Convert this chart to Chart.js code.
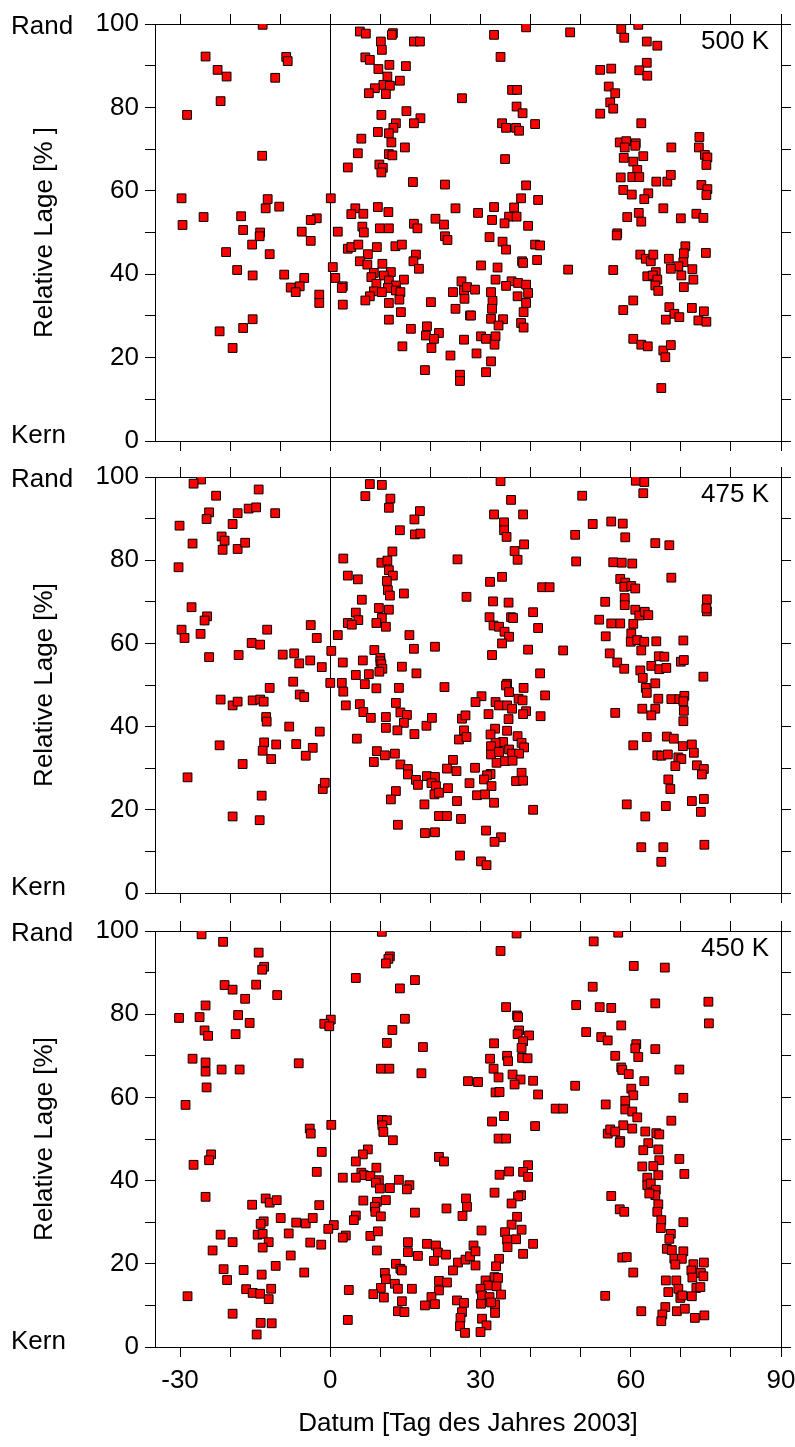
<!DOCTYPE html>
<html>
<head>
<meta charset="utf-8">
<script src="https://cdn.jsdelivr.net/npm/chart.js@4/dist/chart.umd.min.js"></script>
<style>
  html, body { margin: 0; padding: 0; background: #fff; }
  body { width: 795px; height: 1447px; position: relative; overflow: hidden; }
  canvas { position: absolute; left: 0; }
</style>
</head>
<body>
<canvas id="c500" width="795" height="458" style="top:0px"></canvas>
<canvas id="c475" width="795" height="453" style="top:458px"></canvas>
<canvas id="c450" width="795" height="536" style="top:911px"></canvas>
<script>
// Tag des Jahres 2003 (x) / relative Lage in % (y), one list per isentrope
const xTicks = [-30, -20, -10, 0, 10, 20, 30, 40, 50, 60, 70, 80, 90];
const yTicks = [0, 10, 20, 30, 40, 50, 60, 70, 80, 90, 100];
const panelNames = ['500 K', '475 K', '450 K'];
const yTitles = ['Relative Lage [% ]', 'Relative Lage [%]', 'Relative Lage [%]'];
const xTitle = 'Datum [Tag des Jahres 2003]';

const lage500 = [
  [-13.5,99.8],[5.9,98.2],[7.1,97.7],[12.5,97.8],[12.3,97.4],[16.7,95.8],[17.9,95.8],[10.1,95.8],[10.3,93.8],[-24.9,92.2],
  [-8.8,92.1],[-8.5,91.1],[7,92],[7.9,91.4],[11.8,90.2],[15.1,89.9],[-22.5,89],[-20.7,87.4],[-11,87.1],[9.6,89.2],
  [11.4,87.4],[13.9,86.4],[10.6,85.4],[11.9,85.2],[8.9,84.6],[7.7,83.4],[11.1,83.2],[26.3,82.2],[-21.9,81.5],[-28.6,78.2],
  [10.2,78.2],[15.2,79.1],[18,77.4],[16.7,76.2],[13.1,76.2],[12.6,75.1],[9.5,74.1],[11.7,73.8],[6.2,72.5],[12.2,71.6],
  [14.9,70.4],[5.5,69],[11.7,68.8],[12.4,68.5],[-13.6,68.4],[9.8,66.3],[10.5,65.5],[3.5,65.6],[10.2,64.4],[16.5,62.1],
  [22.9,61.5],[-29.7,58.2],[-12.5,58],[0.1,58.2],[-12.9,55.8],[-10.2,56.2],[5,55.8],[9.5,56.1],[25,55.8],[-25.3,53.7],
  [-17.8,53.9],[4.2,54.4],[6.6,54.5],[11.6,54.9],[-2.7,53.4],[-3.9,53],[21,53.3],[16.7,52.1],[22.7,51.9],[-29.5,51.8],
  [-17.4,50.6],[6.4,51.4],[9.9,51],[11.7,51],[17.4,51],[1.5,50.2],[-5.7,50.2],[-14,50],
  [39.1,99.2],[32.7,97.4],[47.9,98],[58.1,98.8],[58.7,96.7],[61.5,99.8],[63.2,95.8],[65.3,94.8],[34,92.1],[53.9,89],
  [56.1,89.3],[63.2,90.7],[61.7,88.9],[63.3,87.6],[55.6,85],[56.9,83.4],[36.3,84.2],[37.3,84.2],[55.9,81.2],[56.5,79.7],
  [53.9,78.5],[37.2,80.2],[38.4,78.6],[62.1,76.2],[34.3,76.2],[35.1,75.1],[37.1,75.1],[37.7,74.4],[40.9,76],[73.7,72.9],
  [57.8,71.6],[59.1,71.9],[61,71.4],[60.9,70.8],[58.8,70.4],[68.1,70.4],[73.6,70.4],[74.8,68.6],[75.3,68],[75.1,66.2],
  [58.6,67.9],[62.5,68.3],[60.5,67],[61.3,65],[34.9,67.6],[58,63.2],[60.3,63.3],[61.7,63.3],[65.1,62.2],[67.3,62.2],
  [68,63.8],[74.1,61.4],[75.3,60.4],[75.1,59],[39.1,61.3],[58.5,60.2],[60.2,59.1],[63.5,59.4],[62.7,58],[38.1,58.2],
  [41.5,57.8],[32.7,56.1],[36.7,56],[29.5,54.7],[66.5,55.8],[32.3,53],[35.7,53.8],[37.2,53.8],[34.8,52.2],[39.5,51.6],
  [59.3,53.7],[61.6,54.7],[62.1,52.6],[70,53.4],[73.1,54.5],[74.5,53.5],[57.3,49.8],
  [-14.1,49.1],[-15.6,47.1],[-3.9,48],[-20.8,45.3],[-12.1,44.8],[-18.6,41],[-15.5,39.7],[-9.2,39.9],[-5.2,39.1],[-7.9,36.8],
  [-6.1,37.1],[-6.9,35.7],[-2.2,35.1],[-2.2,33.1],[0.5,41.7],[1,39.1],[2.5,37.1],[2.3,36.7],[2.5,32.7],[-22.1,26.3],
  [-17.4,27.1],[-15.5,29.2],[-19.5,22.3],[6.7,50],[22.9,49.1],[23.4,48.2],[3.5,46.1],[4.2,46.5],[5.6,47.1],[9.3,46.5],
  [13,46.7],[14.3,47.1],[7.5,44.8],[5.9,43.1],[7.4,42.3],[10.4,42.5],[17.1,44.7],[16.6,43.1],[17.7,41.3],[12.1,40.5],
  [8.7,40.3],[10.7,39.7],[8.2,39.3],[9.2,37.7],[11.7,38.5],[14.7,38.7],[13.1,37.3],[11.5,36.7],[8.7,35.9],[10.3,35.7],
  [13.1,36.1],[14,35.7],[7.9,34.7],[7,33.7],[13.8,33.9],[11.7,33.1],[14.1,30.9],[11.7,29.1],[16.1,26.9],[20.1,33.3],
  [19.3,27.5],[19.1,25.3],[21.7,25.9],[20.7,24.5],[20.2,22.3],[14.4,22.7],[18.9,17],[24,20.5],[25.9,15.9],[25.9,14.4],
  [24.5,35.7],[26.2,38.3],[26.7,36.1],[26.8,34.1],[25,31.7],[27.9,30.1],[26.7,24.3],[27.3,36.9],
  [31.8,48.9],[34.4,47.8],[35.1,45.9],[40.9,47.1],[41.9,46.9],[30.1,42.1],[33.4,41.6],[38.3,43.1],[38.5,42.7],[41.3,43.4],
  [47.5,41.1],[57.2,49.3],[56.5,41],[61.9,44.7],[63,43.7],[64,43.1],[64.5,44.7],[67.6,43.7],[70.9,46.7],[70.6,45],
  [70.5,42.9],[75,45.1],[69.5,41.9],[68,41.3],[72.3,41.2],[70.1,39.7],[72.5,38.7],[70.6,36.9],[65,40.5],[63.3,39.5],
  [64.4,39.7],[65.3,38.7],[64.9,37.3],[65.5,36],[28.9,36.3],[33,38.7],[36.2,38.3],[35.1,37.2],[37.5,37.9],[39.1,37.5],
  [32.1,35.7],[37.4,34.7],[39.5,35.5],[32.4,33.6],[39.1,33.1],[32.3,31.7],[38.6,30.9],[28.1,30.1],[32.1,29.3],[34.5,29.2],
  [33.6,27.7],[38.1,28.3],[38.6,27.2],[30.1,25.1],[31.1,24.5],[33,25.1],[32.8,23.1],[29.2,21],[32.1,19.1],[31.1,16.5],
  [60.5,33.7],[58.5,31.4],[67.7,32.1],[68.7,30.5],[69.7,29.7],[67,29.1],[72.2,31.9],[74.6,31.1],[73.5,28.9],[75.1,28.6],
  [60.5,24.5],[62.1,23.1],[63.4,22.7],[66.5,21.7],[68,23],[66.9,20.1],[66.1,12.7]
];

const lage475 = [
  [-25.8,99.4],[-27.3,98.4],[-22.8,95.5],[-14.3,97],[7.9,98.3],[10.3,98.1],[7,95.4],[12,94.8],[11.7,92.6],[17.9,91.8],
  [16.8,89.8],[-24.2,91.5],[-24.7,89.9],[-18.5,91.3],[-16.3,92.4],[-14.8,92.7],[-11,91.3],[-30.1,88.3],[-19.5,88.7],[13.9,87.2],
  [16.9,86.2],[18,86.4],[-21.7,85.7],[-21.1,84.7],[-21.5,82.5],[-18.5,82.7],[-17,84.2],[-27.5,84],[12.4,82.1],[-30.3,78.3],
  [2.6,80.4],[10.2,79.4],[11.4,79.9],[11.7,77.6],[12.5,76.3],[25.4,80.2],[3.5,76.3],[5.5,75.4],[11.3,75],[11.5,72.8],
  [11.9,71.5],[14.7,72],[6.3,70.5],[27.2,71.2],[-27.7,68.7],[-24.6,66.5],[-25.1,65.5],[9.7,68.5],[11.7,68.1],[10.3,66.1],
  [9.2,64.9],[11.1,64],[5.1,67.4],[3.5,64.9],[5.6,65.6],[4.3,64.5],[-29.7,63.3],[-29.1,61.3],[-25.9,62.3],[-12.6,63.3],
  [-3.9,64.4],[-2.7,61.3],[1.5,62],[15.8,62],[-15.7,60.1],[-14,59.7],[20.9,59.2],[16.7,58.7],[8.8,58.4],[0.2,58.2],
  [10,56.5],[10,55.7],[10.2,55],[10.4,53.9],[9.8,53.2],[-24.2,56.7],[-18.3,57.2],[-9.5,57.3],[-7.2,57.6],[-6.2,55.2],
  [-4,55.9],[-1.7,54.3],[2.5,55.4],[6.5,55.9],[14.3,54.4],[17.2,52.8],[5.1,52.4],[7.7,52.6],[-7.4,50.8],[0,50.5],
  [2.3,50.5],[6.9,50.2],[-12.1,49.3],[9.2,49.2],[13.7,49.3],[22.8,49.5],
  [34,99],[61,99.1],[62.7,98.8],[62.5,96.1],[50.3,95.5],[36.1,94.5],[32.7,91],[38.5,91],[34.7,89.1],[34.7,87.2],
  [35.2,85.6],[52.4,88.7],[56.1,89.3],[58.4,88.8],[58.9,85.5],[48.9,86.1],[64.9,84.1],[67.7,83.6],[38.7,83.8],[36.8,82.2],
  [37.4,80.1],[49.1,79.7],[56.5,79.5],[58.2,79.4],[60.3,79.2],[68.1,75.8],[34.3,76],[31.9,74.8],[42.3,73.5],[43.8,73.5],
  [57.9,75.5],[58.9,74.6],[58.7,73.6],[60.1,73.8],[60.9,73.2],[58.8,70.9],[32.5,70.1],[35.6,69.8],[54.9,70],[58.8,69.2],
  [60.9,68.1],[61.7,66.7],[62.8,67.6],[63.5,66.8],[75.2,70.6],[75.2,67.7],[75.1,68.4],[40.5,67.5],[31.8,66.3],[36.1,66.3],
  [36.5,66.1],[32.6,64.3],[33.7,64],[34.8,62.8],[35.7,61.6],[34.3,60],[41.5,63.7],[53.7,65.7],[56.1,64.8],[57.9,64.8],
  [60.5,64.7],[55,61.7],[60.1,62.4],[60,60.4],[61.3,60.8],[62.7,60.4],[65.1,60.5],[70.5,60.7],[62.1,58.3],[32.3,57.2],
  [39.5,58.5],[46.5,58.3],[55.8,57.6],[57.3,55.4],[58.7,53.9],[61.9,53.5],[62.4,51.7],[64.1,54.6],[65.6,56.9],[66.7,56.8],
  [65.7,53.8],[67.1,54.1],[70,55.6],[70.6,56],[74.5,52],[41.9,52.8],[35.3,50.3],[35.1,49.9],[38.6,49.3],[63,49.3],[64.9,50.4],
  [2.6,48.4],[-6.1,47.7],[-5.2,47.1],[-21.9,46.5],[-19.5,45.1],[-18.5,46],[-15.5,46.3],[-14,46.5],[-13.3,46],[3.1,45.1],
  [5.9,45.4],[6.6,43.5],[8.1,42.1],[11.1,42.3],[13.1,45.7],[14,43.4],[15.3,42.8],[14.7,40.9],[11.1,39.7],[13.4,39.1],
  [16.8,38.2],[19.2,40.2],[20.3,42.1],[26.3,41.9],[27,42.7],[26.7,39.1],[25.7,36.9],[27.2,37.5],[-12.8,42.3],[-12.7,41.2],
  [-8.2,40],[-2.1,38.8],[5.3,37.1],[-22.1,35.5],[-13.2,36.2],[-13.5,34.2],[-10.8,35.7],[-6.8,35.8],[-3.5,34.9],[-4.9,33],
  [-11.8,32.2],[-17.5,31],[9.3,34.1],[10.9,33.1],[12.9,33.5],[8.7,31.5],[14,30.9],[15.5,29.8],[15.5,28.5],[17.1,27.2],
  [17.5,26],[19.3,28.1],[20.9,27.9],[20.2,26.4],[21.1,25.7],[20.8,23.7],[21.7,24.1],[23.5,25.2],[24.5,32],[23.3,29.9],
  [25.2,29.3],[27.8,26.4],[-28.5,27.8],[-1.5,25],[-1.1,26.5],[-13.7,23.4],[13.1,24.5],[12.1,22.5],[18.8,21.3],[25.3,22.1],
  [-19.5,18.4],[-14.1,17.5],[21.7,18.5],[23.3,18.5],[26.1,17.8],[13.5,16.4],[18.9,14.4],[20.9,14.6],[25.9,9],
  [35.7,48.3],[30.2,47.3],[29,45.9],[33,45.9],[33.7,45.1],[35.3,45.1],[36.3,44.3],[37.6,46.7],[38.4,46.3],[42.9,47.5],
  [39.1,43.7],[38.5,43],[42,42.5],[31.6,43],[35.6,41.8],[32.9,39.5],[35.3,39],[32,38.1],[37.4,37.7],[34.5,36.3],
  [33,36.1],[38.2,36.1],[38.7,35],[32.1,35.3],[32.1,33.3],[33.7,33.9],[35.7,34.5],[36.3,33.5],[37.7,33.5],[33.2,31.3],
  [34.9,31.7],[36.4,31.8],[28.9,30.1],[32,28.6],[31.3,28.3],[30.7,27.3],[38.2,28.9],[37.1,26.9],[38.5,27],[32.2,25.7],
  [29.3,23.5],[30.9,23.7],[32.7,21.7],[40.5,20],[31.1,15],[34.1,13.4],[32.8,12.3],[30.1,7.6],[31.2,6.7],[56.9,43.3],
  [63.2,48.1],[65.5,46.7],[68.1,46.6],[69.7,46.6],[70.7,47.4],[70.5,46.1],[70.6,43.8],[70.5,41.3],[62.3,44.3],[64.9,44.3],
  [64.1,42.7],[60.5,35.5],[63.2,37.5],[67.2,37.6],[68.6,37.1],[70.4,35.3],[72.2,35.7],[72.6,33.7],[65.3,33.1],[66.1,33],
  [67.4,33.3],[69.5,32.6],[70.1,32.2],[68.9,30.5],[73.2,30.7],[74.6,29.8],[74.2,28.5],[67.5,27.3],[67.9,25],[59.2,21.3],
  [62.9,18.4],[67,20.9],[72.2,22.1],[74.6,22.6],[74,19.5],[62.1,11],[66.5,11],[66.1,7.5],[74.7,11.6]
];

const lage450 = [
  [-25.7,99.2],[-21.4,97.4],[-14.3,94.8],[-13.2,91.4],[-13.6,90.7],[10.3,99.8],[11.9,93.9],[11.6,93.3],[11.1,92.2],[5.1,88.7],
  [16.9,88.2],[13.9,86.2],[-21.1,87],[-19.5,85.9],[-14.8,87.1],[-10.6,84.6],[-17,83.7],[-24.9,82.1],[-30.2,79.1],[-26.1,79.3],
  [-18.4,79.8],[-16.1,77.9],[0.1,78.7],[-1.2,77.7],[-0.2,77.1],[14.9,78.9],[12.4,76.2],[11.3,73.1],[18.5,72.1],[-25.1,76.1],
  [-24.4,74.8],[-18.9,75.2],[-27.5,69.3],[-24.9,68.4],[-24.9,66.2],[-21.7,66.7],[-18.1,66.7],[-6.3,68.2],[10.1,66.9],[11.8,66.9],
  [18.2,65.8],[27.5,63.9],[-24.7,62.4],[-28.9,58.2],[-4.1,52.5],[-3.9,51.3],[0.2,53.4],[10.3,54.6],[11.3,54.5],[10.4,53.3],
  [10.6,51.7],[12.5,49.7],
  [37.2,99.4],[57.5,99.6],[52.6,97.5],[34,95.2],[60.6,91.6],[66.8,91.2],[52.4,86.6],[64.9,82.6],[75.5,83],[75.6,77.8],
  [49.1,82.2],[53.8,81.7],[56.1,81.5],[35.1,81.7],[37.3,79.7],[37.5,79.3],[58.1,77.3],[51.1,75.7],[37.7,76.1],[37.4,75.2],
  [39.7,74.9],[54.1,74.5],[55.4,73.7],[38.5,73.5],[38.2,71.9],[32.7,73],[61.1,72.8],[60.9,71.8],[64.9,71.6],[56.9,70],
  [61.5,69.7],[31.9,69.3],[35.3,70],[35.5,68.7],[38.3,69.5],[39.4,69.4],[32.6,66.9],[58.1,67.2],[58.3,66.6],[59.6,65.6],
  [69.7,66.7],[36.4,65.5],[33.6,64.8],[38,64.3],[36.8,63.1],[40.5,64],[29.5,63.7],[62.7,63.9],[48.9,62.8],[60.1,62.1],
  [60.5,60.5],[70.5,59.9],[33,61.2],[33.8,61.3],[41.5,60.7],[58.9,59.2],[58.9,57.1],[60.3,56.6],[61.3,55.2],[55,58.3],
  [45,57.3],[46.5,57.3],[34.7,55.5],[32.3,54.2],[40.9,53.1],[68.1,54.4],[58.5,53.3],[60.3,52.5],[55.4,51.3],[55.9,52.3],
  [56.9,51.8],[62.9,51.8],[65.1,51.4],[65.7,51.1],[33.6,50.1],[35.1,50.1],[57.9,49.5],[63.5,49],
  [-1.7,46.9],[-23.8,46.3],[-24.2,44.9],[-27.3,43.8],[7.5,47.5],[6.5,46.3],[5.1,44.6],[9.2,43.1],[-2.7,42.1],[21.7,45.7],
  [22.7,44.6],[6.2,41.9],[6.7,41.3],[8,41.1],[2.5,40.7],[5.1,40.7],[9.7,40.1],[9.1,39.5],[13.7,40.2],[11.9,38.2],
  [9.9,38.1],[15.8,38.9],[15.3,37.9],[-24.9,36.1],[-12.9,35.7],[-12.1,34.7],[-15.6,34.2],[-10.7,35.3],[-2.2,34.1],[6.6,35.2],
  [9.3,34.9],[11.1,35.3],[8.9,33.7],[9,32.5],[10.1,31.4],[27.1,35.7],[27.3,33.7],[23.2,33.3],[26.4,31.5],[16.9,32.3],
  [5.1,31.6],[4.7,30.5],[-13.3,30.2],[-13.9,29.6],[-9.9,31],[-6.8,29.9],[-4.9,29.7],[-3.5,31],[0.7,29.3],[-0.4,28.4],
  [-8.3,27.3],[-21.9,27],[-19.5,25.2],[-23.5,23.2],[-14.5,27],[-13.5,27.2],[-12.3,25.2],[-13.5,23.9],[-4,25.1],[-1.8,24.6],
  [-7.9,22],[3.1,26.8],[2.5,26.3],[8,26.7],[9.5,27.8],[9.3,23.2],[15.5,25.2],[15.5,22.8],[17.5,21.9],[19.3,24.8],
  [21.1,24.4],[21.5,22.7],[20.7,20.7],[23.1,22.2],[25.5,20.3],[24.5,18.4],[27,21],[27.9,21.8],[13.1,20],[14,18.8],
  [14.3,18.4],[10.9,17.8],[11.1,16.3],[12.9,15.2],[13.5,14],[10.1,14.2],[16.3,14],[8.6,12.7],[10.7,11.9],[14.3,11],
  [13.5,8.6],[14.8,8.4],[21.7,15.9],[23.3,15.5],[21.7,13.6],[20.2,12],[20.9,10.3],[18.9,10],[25.3,11.2],[26.7,10.6],
  [26.3,8.4],[26,7],[25.9,5],[26.9,3.4],[-21.3,18.7],[-20.6,16.1],[-17.3,18.5],[-13.7,17.4],[-10.9,19.5],[-5.2,17.9],
  [-16.8,13.9],[-15.5,13],[-14,12.8],[-11.8,14],[-12.3,11.5],[-28.5,12.2],[-19.5,8],[-13.9,5.8],[-11.7,5.7],[-14.7,3],
  [3.7,13.7],[3.5,6.5],
  [57.8,49.1],[62.5,47.3],[65.5,47.5],[65.7,44.9],[69.7,45.2],[70.7,41.6],[62.3,43.4],[64.5,43.5],[65.5,41.3],[63.3,40.7],
  [63.3,38.9],[64,39.3],[65,37.8],[64.9,36.5],[63.7,36.9],[65.5,34.3],[65.3,32.5],[66.1,30.5],[66,28.6],[56.1,36.3],
  [57.8,33.1],[58.7,32.5],[70.5,30],[68,27.2],[67.7,26],[67.2,23.6],[68.2,23.3],[70.5,23],[68.7,21.2],[70.2,21.2],
  [68.9,19.8],[72.5,19.9],[74.6,20.3],[72.1,18.4],[74,17.8],[74.5,17],[72.3,16.7],[67,16],[69.1,16],[69.5,14],
  [67.5,13.2],[73.1,14.2],[73.9,14.4],[69.9,11.8],[70.3,12.4],[72.2,12.2],[66.9,9.6],[66.3,7.8],[66.1,6.2],[69.2,8.6],
  [70.8,9.2],[72.8,7],[74.7,7.6],[54.9,12.3],[62.1,8.6],[60.5,17.9],[58.3,21.5],[59.2,21.6],[39.5,43.7],[38.5,42.1],
  [39.5,40.9],[35.7,42.2],[33.8,41.4],[32.8,37.1],[38.1,36.5],[37.5,36.2],[36.2,34.5],[37.3,31.3],[36.2,29.4],[38.2,28.2],
  [30.2,28],[34.9,27.6],[35.3,25.8],[37.1,25.9],[40.5,24.8],[35.4,24],[38.5,22.4],[28.6,24.4],[29,23],[29,19.6],
  [33.7,21.2],[33.1,19.4],[32.8,16.8],[33.5,16.6],[31,16],[31.5,14.8],[33.2,14.6],[30,14],[30.3,12.4],[31.8,12],
  [34.1,12.6],[30.1,10.4],[32.9,10.2],[32.1,10.7],[32.9,8.2],[30.3,6.8],[31.2,5.2],[30,3.6]
];

const FONT = 'Liberation Sans, Arial, sans-serif';
const FS = 26;

// Rand / Kern on the left and the isentrope name in the corner
const panelText = {
  id: 'panelText',
  afterDraw(chart, args, opts) {
    const ctx = chart.ctx;
    const y = chart.scales.y;
    const area = chart.chartArea;
    ctx.save();
    ctx.fillStyle = '#000';
    ctx.font = FS + 'px ' + FONT;
    ctx.textBaseline = 'middle';
    ctx.textAlign = 'left';
    ctx.fillText('Rand', 11, y.getPixelForValue(100) + 3);
    ctx.fillText('Kern', 11, y.getPixelForValue(0) - 5);
    ctx.textAlign = 'right';
    ctx.fillText(opts.name, area.right - 12, area.top + 18);
    ctx.restore();
  }
};

function fixedTicks(list) {
  return function(scale) {
    scale.ticks = list.map(v => ({ value: v }));
  };
}

function makePanel(id, data, idx, topH, bottomH, withX) {
  const tickFont = { family: FONT, size: FS };
  const axisBase = {
    type: 'linear',
    border: { display: true, color: '#000', width: 1 },
    grid: { drawOnChartArea: false, drawTicks: true, tickLength: 10, color: '#000', tickColor: '#000' }
  };
  new Chart(document.getElementById(id), {
    type: 'scatter',
    data: {
      datasets: [{
        data: data,
        pointStyle: 'rect',
        pointRadius: 6.2,
        backgroundColor: '#ff0000',
        borderColor: '#000',
        borderWidth: 1
      }]
    },
    options: {
      responsive: false,
      animation: false,
      events: [],
      layout: { padding: 0 },
      plugins: {
        legend: { display: false },
        tooltip: { enabled: false },
        panelText: { name: panelNames[idx] }
      },
      scales: {
        x: {
          ...axisBase,
          position: 'bottom',
          min: -35, max: 90,
          grid: {
            drawOnChartArea: true, drawTicks: true, tickLength: 10, tickColor: '#000',
            color: c => (c.tick && c.tick.value === 0 ? '#000' : 'rgba(0,0,0,0)')
          },
          afterBuildTicks: fixedTicks(xTicks),
          ticks: {
            display: withX, autoSkip: false, maxRotation: 0, padding: 8,
            color: '#000', font: tickFont,
            callback: v => (v % 30 === 0 ? String(v) : '')
          },
          title: {
            display: withX, text: xTitle, color: '#000',
            font: tickFont, padding: { top: 0, bottom: 8 }
          },
          afterFit: s => { s.height = bottomH; s.paddingLeft = 0; s.paddingRight = 0; }
        },
        x2: {
          ...axisBase,
          position: 'top',
          min: -35, max: 90,
          afterBuildTicks: fixedTicks(xTicks),
          ticks: { display: false },
          afterFit: s => { s.height = topH; s.paddingLeft = 0; s.paddingRight = 0; }
        },
        y: {
          ...axisBase,
          position: 'left',
          min: 0, max: 100,
          afterBuildTicks: fixedTicks(yTicks),
          ticks: {
            autoSkip: false, padding: 6, color: '#000', font: tickFont,
            callback: v => (v % 20 === 0 ? String(v) : '')
          },
          title: {
            display: true, text: yTitles[idx], color: '#000',
            font: tickFont, padding: { top: 29, bottom: 0 }
          },
          afterFit: s => { s.width = 155; s.paddingTop = 0; s.paddingBottom = 0; }
        },
        y2: {
          ...axisBase,
          position: 'right',
          min: 0, max: 100,
          afterBuildTicks: fixedTicks(yTicks),
          ticks: { display: false },
          afterFit: s => { s.width = 14; }
        }
      }
    },
    plugins: [panelText]
  });
}

makePanel('c500', lage500, 0, 24, 17, false);
makePanel('c475', lage475, 1, 19, 18, false);
makePanel('c450', lage450, 2, 20, 100, true);
</script>
</body>
</html>
